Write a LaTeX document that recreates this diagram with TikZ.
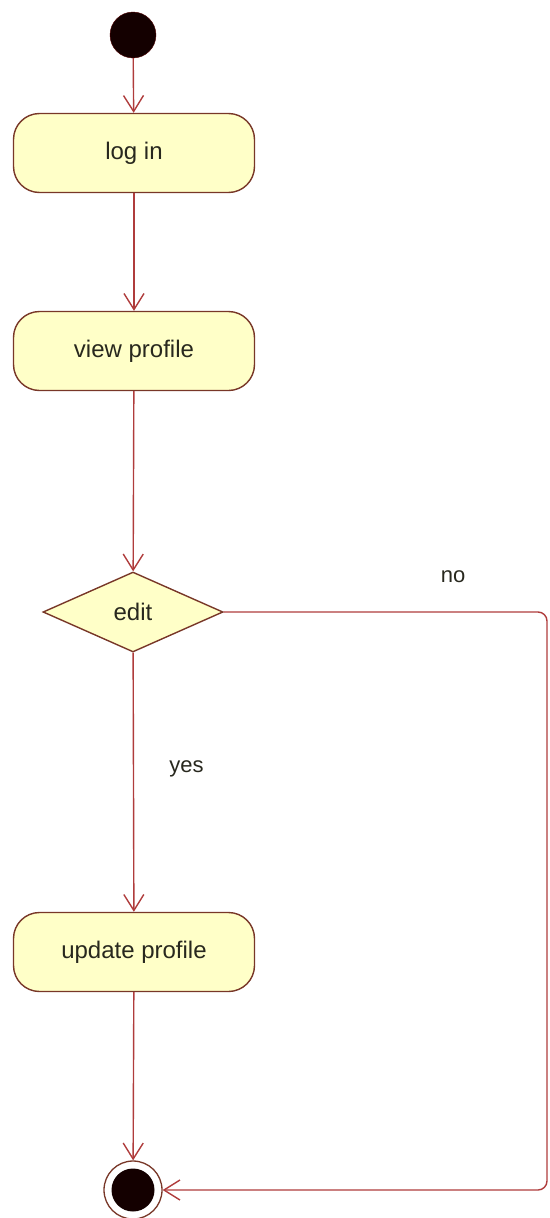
\documentclass[tikz,border=0pt]{standalone}
\usepackage{fontspec}
\setmainfont{Liberation Sans}
\usetikzlibrary{arrows.meta,shapes.geometric}
\definecolor{actfill}{RGB}{255,255,200}
\definecolor{actedge}{RGB}{120,55,40}
\definecolor{flow}{RGB}{175,60,60}
\definecolor{dot}{RGB}{20,0,0}
\definecolor{ink}{RGB}{40,40,30}
\begin{document}
\begin{tikzpicture}[x=1pt,y=-1pt,
  every node/.style={font=\fontsize{24}{28}\selectfont,text=ink},
  activity/.style={draw=actedge,fill=actfill,line width=1.4pt,rounded corners=26pt,
    minimum width=241pt,minimum height=79pt,inner sep=0pt},
  decision/.style={draw=actedge,fill=actfill,line width=1.4pt,diamond,aspect=2.25,
    minimum width=180pt,minimum height=80pt,inner sep=0pt},
  flowline/.style={draw=flow,line width=1.4pt,-{Straight Barb[length=16pt,width=20pt,line width=1.4pt]}},
  label/.style={font=\fontsize{22}{26}\selectfont}]
\useasboundingbox (0,0) rectangle (549,1218);
% initial state
\node[circle,fill=dot,draw={rgb,255:red,80;green,0;blue,0},minimum size=46pt,inner sep=0pt] (start) at (133,35) {};
% activities
\node[activity] (login) at (134,153) {log in};
\node[activity] (view) at (134,351) {view profile};
\node[decision] (edit) at (133,612) {edit};
\node[activity] (update) at (134,952) {update profile};
% final state
\node[circle,draw=actedge,fill=white,line width=1.3pt,minimum size=58pt,inner sep=0pt] (final) at (133,1190) {};
\node[circle,fill=dot,minimum size=43pt,inner sep=0pt] (finaldot) at (final) {};
% flows
\draw[flowline] (start) -- (login);
\draw[flowline] (login) -- (view);
\draw[flowline] (view) -- (edit);
\draw[flowline] (edit) -- node[label,right=32pt,pos=0.45] {yes} (update);
\draw[flowline] (update) -- (final);
\coordinate (turn) at (547,612);
\draw[flowline,rounded corners=9pt] (edit.east) -- (turn) -- (turn |- final) -- (final.east);
\node[label] (no) at (453,577) {no};
\end{tikzpicture}
\end{document}
